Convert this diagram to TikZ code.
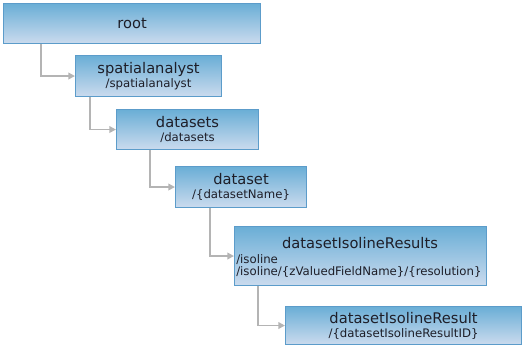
\documentclass[tikz,border=0pt]{standalone}
\usepackage{fontspec}
\setmainfont{DejaVu Sans}
\usetikzlibrary{positioning,arrows.meta}
\definecolor{boxtop}{HTML}{6AAED6}
\definecolor{boxbot}{HTML}{CBDBEE}
\definecolor{boxline}{HTML}{5C9CCA}
\definecolor{linkgray}{HTML}{B4B4B4}
\definecolor{txt}{HTML}{1E1E28}
\begin{document}
\begin{tikzpicture}[x=0.75pt, y=-0.75pt,
  res/.style={draw=boxline, line width=0.8pt, top color=boxtop, bottom color=boxbot,
    anchor=north west, inner sep=0pt, align=center, text=txt},
  link/.style={draw=linkgray, line width=1.2pt, -{Triangle[length=5pt,width=5pt]}},
  ttl/.style={font=\fontsize{11}{13}\selectfont},
  sub/.style={font=\fontsize{8.8}{10.5}\selectfont}]
\useasboundingbox (0,0) rectangle (524,348);
% resource boxes
\node[res, minimum width=257*0.75pt, minimum height=40*0.75pt] (root) at (3,3)
  {\fontsize{11}{13}\selectfont root};
\node[res, minimum width=146*0.75pt, minimum height=41*0.75pt] (spatial) at (75,55)
  {\fontsize{11}{13}\selectfont spatialanalyst\\[-1.5pt]\fontsize{8.8}{10.5}\selectfont /spatialanalyst};
\node[res, minimum width=142*0.75pt, minimum height=40*0.75pt] (datasets) at (116,109)
  {\fontsize{11}{13}\selectfont datasets\\[-1.5pt]\fontsize{8.8}{10.5}\selectfont /datasets};
\node[res, minimum width=131*0.75pt, minimum height=41*0.75pt] (dataset) at (175,166)
  {\fontsize{11}{13}\selectfont dataset\\[-1.5pt]\fontsize{8.8}{10.5}\selectfont /\{datasetName\}};
\node[res, minimum width=252*0.75pt, minimum height=59*0.75pt] (results) at (234,226) {};
\node[ttl, text=txt] (resultsT) at (360,243) {datasetIsolineResults};
\node[sub, text=txt, anchor=west, inner sep=0pt, align=left] (resultsS) at (236,266)
  {/isoline\\[-1.5pt]/isoline/\{zValuedFieldName\}/\{resolution\}};
\node[res, minimum width=236*0.75pt, minimum height=38*0.75pt] (result) at (285,306)
  {\fontsize{11}{13}\selectfont datasetIsolineResult\\[-1.5pt]\fontsize{8.8}{10.5}\selectfont /\{datasetIsolineResultID\}};
% connectors
\draw[link] ([xshift=38*0.75pt]root.south west) |- (spatial.west);
\draw[link] ([xshift=15*0.75pt]spatial.south west) |- (datasets.west);
\draw[link] ([xshift=34*0.75pt]datasets.south west) |- (dataset.west);
\draw[link] ([xshift=35*0.75pt]dataset.south west) |- (results.west);
\draw[link] ([xshift=24*0.75pt]results.south west) |- (result.west);
\end{tikzpicture}
\end{document}
